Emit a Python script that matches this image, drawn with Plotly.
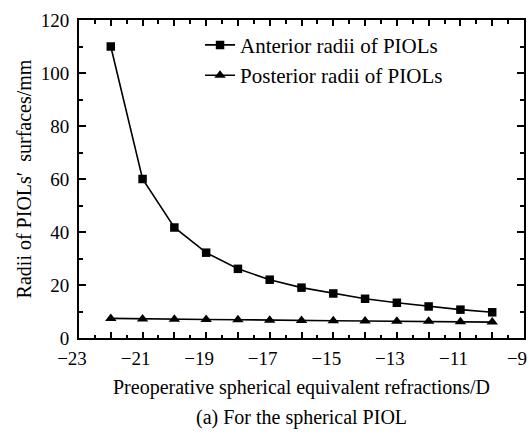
import plotly.graph_objects as go

refraction = [-22, -21, -20, -19, -18, -17, -16, -15, -14, -13, -12, -11, -10]
anterior = [110, 60, 41.7, 32.2, 26.1, 22.0, 19.0, 16.8, 14.8, 13.3, 11.9, 10.7, 9.7]
posterior = [7.4, 7.2, 7.1, 7.0, 6.9, 6.7, 6.6, 6.5, 6.4, 6.3, 6.3, 6.1, 6.0]

x_tickvals = list(range(-23, -8))
x_ticktext = [("\u2212" + str(abs(v))) if v % 2 != 0 else "" for v in x_tickvals]
y_tickvals = list(range(0, 121, 20))
y_ticktext = [str(v) for v in y_tickvals]

FONT = "Liberation Serif"

fig = go.Figure()
fig.add_trace(go.Scatter(
    x=refraction, y=anterior, mode="lines+markers",
    name="Anterior radii of PIOLs",
    line=dict(color="black", width=1.6),
    marker=dict(symbol="square", size=8.5, color="black"),
))
fig.add_trace(go.Scatter(
    x=refraction, y=posterior, mode="lines+markers",
    name="Posterior radii of PIOLs",
    line=dict(color="black", width=1.6),
    marker=dict(symbol="triangle-up", size=10, color="black"),
))

fig.update_layout(
    width=532, height=440,
    margin=dict(l=79, r=5, t=20, b=102),
    paper_bgcolor="white", plot_bgcolor="white",
    font=dict(family=FONT, size=19, color="black"),
    showlegend=True,
    legend=dict(x=0.272, y=0.985, xanchor="left", yanchor="top",
                bgcolor="rgba(0,0,0,0)", font=dict(family=FONT, size=21),
                itemwidth=30, tracegroupgap=0),
    xaxis=dict(
        range=[-23, -9], tickmode="array", tickvals=x_tickvals, ticktext=x_ticktext,
        ticks="inside", ticklen=6, tickwidth=1.5, tickcolor="black",
        showline=True, linewidth=2, linecolor="black", mirror="allticks",
        showgrid=False, zeroline=False, ticklabelshift=-7, ticklabelstandoff=2,
        tickfont=dict(family=FONT, size=19),
        minor=dict(dtick=0.5, ticks="inside", ticklen=3.5, tickwidth=1.5, tickcolor="black", showgrid=False),
        title=dict(text="Preoperative spherical equivalent refractions/D", font=dict(family=FONT, size=20), standoff=12),
    ),
    yaxis=dict(
        range=[0, 120], tickmode="array", tickvals=y_tickvals, ticktext=y_ticktext,
        ticks="inside", ticklen=7, tickwidth=1.5, tickcolor="black",
        showline=True, linewidth=2, linecolor="black", mirror="allticks",
        showgrid=False, zeroline=False, ticklabelstandoff=4,
        tickfont=dict(family=FONT, size=19),
        minor=dict(dtick=10, ticks="inside", ticklen=4, tickwidth=1.5, tickcolor="black", showgrid=False),
        title=dict(text="Radii of PIOLs\u2032\u00a0\u00a0surfaces/mm", font=dict(family=FONT, size=20), standoff=4),
    ),
)

fig.add_annotation(
    text="(a) For the spherical PIOL", xref="paper", yref="paper",
    x=0.5, y=-0.25, xanchor="center", yanchor="middle", showarrow=False,
    font=dict(family=FONT, size=20, color="black"),
)

fig.write_html("out.html")
